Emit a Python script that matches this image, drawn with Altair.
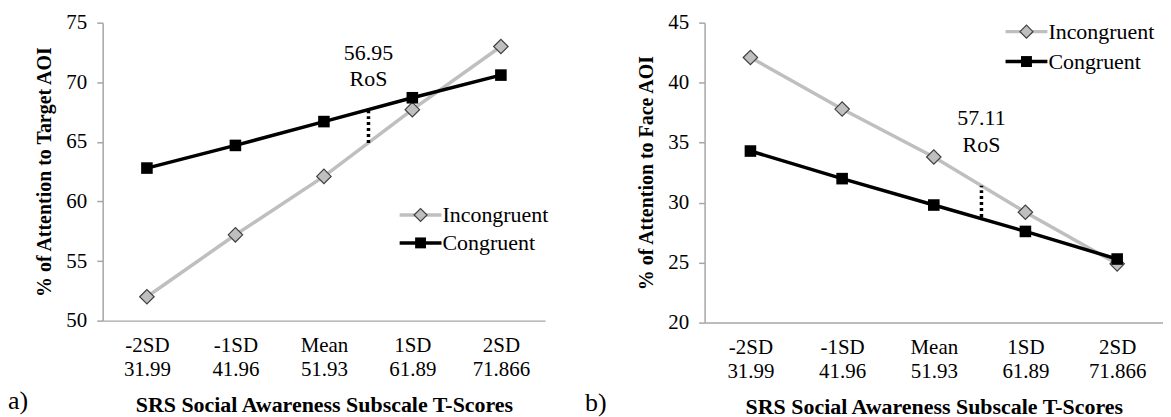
import altair as alt
import pandas as pd

# ---------------- data ----------------
sd_labels = ["-2SD", "-1SD", "Mean", "1SD", "2SD"]
t_scores = [31.99, 41.96, 51.93, 61.89, 71.866]
series = ["Incongruent", "Congruent"]

a_incongruent = [52.0, 57.2, 62.1, 67.7, 73.0]
a_congruent = [62.8, 64.7, 66.7, 68.7, 70.6]
a_ros = 56.95
a_ros_span = [64.9, 67.6]

b_incongruent = [42.1, 37.8, 33.8, 29.2, 24.9]
b_congruent = [34.3, 32.0, 29.8, 27.6, 25.3]
b_ros = 57.11
b_ros_span = [28.8, 31.4]

FONT = "Liberation Serif"
half = (t_scores[-1] - t_scores[0]) / 8
x_domain = [t_scores[0] - half, t_scores[-1] + half]

label_expr = " : ".join(
    f"datum.value == {v} ? ['{s}', '{v}']" for s, v in zip(sd_labels, t_scores)
) + " : ''"

AX = dict(labelFont=FONT, titleFont=FONT, labelFontSize=21, labelColor="black",
          titleColor="black", domainColor="#a6a6a6", tickColor="#a6a6a6",
          domainWidth=1.5, tickWidth=1.5, grid=False)


def panel(inc, con, ros, ros_span, y_dom, y_title, letter, w, h, legend_pos,
          ann_y, top_extra):
    df = pd.DataFrame({
        "t": t_scores * 2,
        "v": inc + con,
        "s": ["Incongruent"] * 5 + ["Congruent"] * 5,
    })
    x = alt.X("t:Q", scale=alt.Scale(domain=x_domain, nice=False, zero=False),
              axis=alt.Axis(values=t_scores, labelExpr=label_expr, ticks=False,
                            labelPadding=14, labelLineHeight=24,
                            title="SRS Social Awareness Subscale T-Scores",
                            titlePadding=15, titleFontWeight="bold", titleFontSize=22,
                            **AX))
    y = alt.Y("v:Q", scale=alt.Scale(domain=y_dom, nice=False, zero=False),
              axis=alt.Axis(values=list(range(y_dom[0], y_dom[1] + 1, 5)),
                            title=y_title, titleFontWeight="bold", titleFontSize=20,
                            titlePadding=11, tickSize=6, labelPadding=10, **AX))
    inc_df = df[df.s == "Incongruent"]
    con_df = df[df.s == "Congruent"]
    inc_line = alt.Chart(inc_df).mark_line(color="#bfbfbf", strokeWidth=3.5).encode(x=x, y=y)
    inc_pts = alt.Chart(inc_df).mark_point(shape="diamond", filled=True, fill="#bfbfbf",
                                           stroke="#404040", strokeWidth=1.2, size=210,
                                           opacity=1).encode(x=x, y=y)
    con_line = alt.Chart(con_df).mark_line(color="black", strokeWidth=3.5).encode(x=x, y=y)
    con_pts = alt.Chart(con_df).mark_point(shape="square", filled=True, color="black",
                                           size=135, opacity=1).encode(x=x, y=y)

    ros_df = pd.DataFrame({"t": [ros], "y1": [ros_span[0]], "y2": [ros_span[1]]})
    ros_rule = alt.Chart(ros_df).mark_rule(color="black", strokeWidth=3.5,
                                           strokeDash=[3, 3]).encode(
        x=alt.X("t:Q"), y=alt.Y("y1:Q"), y2="y2:Q")
    ann_df = pd.DataFrame({"t": [ros], "txt": [[f"{ros:.2f}", "RoS"]]})
    ann = alt.Chart(ann_df).mark_text(font=FONT, fontSize=22, lineHeight=27,
                                      baseline="middle", align="center").encode(
        x=alt.X("t:Q"), y=alt.value(ann_y), text="txt")

    # legend
    lx, ly, lstep = legend_pos
    leg_layers = []
    for i, name in enumerate(series):
        yy = ly + i * lstep
        col = "#bfbfbf" if name == "Incongruent" else "black"
        ldf = pd.DataFrame({"name": [name]})
        leg_layers.append(alt.Chart(ldf).mark_rule(color=col, strokeWidth=3.5).encode(
            x=alt.value(lx), x2=alt.value(lx + 42), y=alt.value(yy)))
        if name == "Incongruent":
            leg_layers.append(alt.Chart(ldf).mark_point(
                shape="diamond", filled=True, fill="#bfbfbf", stroke="#404040",
                strokeWidth=1.2, size=170, opacity=1).encode(
                x=alt.value(lx + 21), y=alt.value(yy)))
        else:
            leg_layers.append(alt.Chart(ldf).mark_point(
                shape="square", filled=True, color="black", size=120, opacity=1).encode(
                x=alt.value(lx + 21), y=alt.value(yy)))
        leg_layers.append(alt.Chart(ldf).mark_text(
            font=FONT, fontSize=22, align="left", baseline="middle", color="black").encode(
            x=alt.value(lx + 43), y=alt.value(yy), text="name:N"))

    let_df = pd.DataFrame({"l": [letter]})
    let_mark = alt.Chart(let_df).mark_text(font=FONT, fontSize=26, align="left",
                                           baseline="middle").encode(
        x=alt.value(letter_x[letter]), y=alt.value(h + 81), text="l:N")

    # invisible spacer that sets how far the panel sits below the top edge
    spacer = alt.Chart(let_df).mark_rule(strokeOpacity=0, opacity=0).encode(
        x=alt.value(0), y=alt.value(-top_extra), y2=alt.value(0))

    return alt.layer(inc_line, con_line, inc_pts, con_pts, ros_rule, ann,
                     *leg_layers, let_mark, spacer).properties(width=w, height=h)


letter_x = {"a)": -95, "b)": -120}

pa = panel(a_incongruent, a_congruent, a_ros, a_ros_span, [50, 75],
           "% of Attention to Target  AOI", "a)", 444, 299, (298, 193, 28), 30, 14)
pb = panel(b_incongruent, b_congruent, b_ros, b_ros_span, [20, 45],
           "% of Attention to Face AOI", "b)", 460, 301, (302, 9, 30), 96, 14)

chart = alt.hconcat(pa, pb, spacing=36).properties(
    padding={"left": 0, "top": 0, "right": 0, "bottom": 0}
).configure(background="white").configure_view(stroke=None)

chart.save("out.html", embed_options={"renderer": "svg", "actions": False})
